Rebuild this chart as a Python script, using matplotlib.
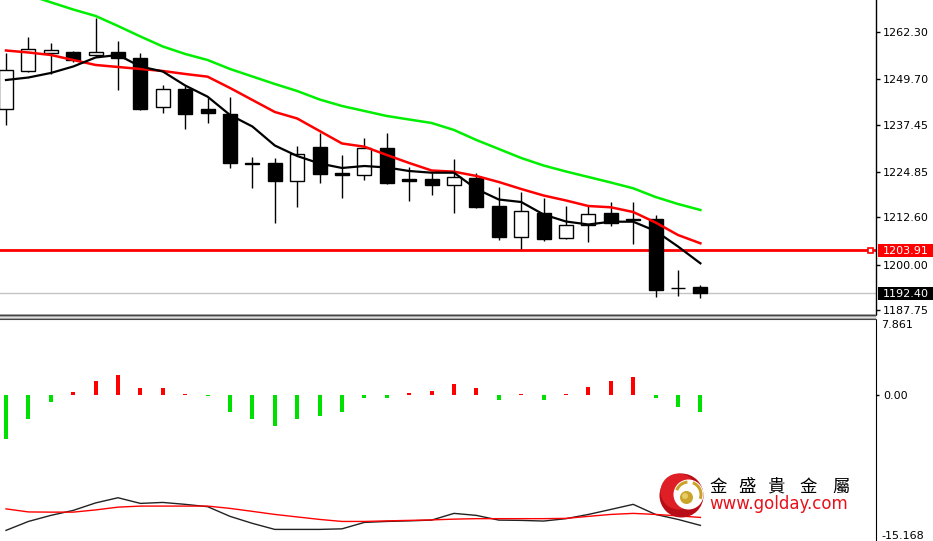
import numpy as np
import matplotlib.pyplot as plt
import matplotlib.transforms as mtransforms
from matplotlib.patches import Circle, Wedge, Rectangle

# candles (price)
opens = [1241.61, 1251.85, 1256.50, 1256.93, 1256.05, 1256.93, 1255.17, 1242.06, 1246.88, 1241.53,
         1240.19, 1227.09, 1227.09, 1222.36, 1231.53, 1224.50, 1223.96, 1231.26, 1222.76, 1222.81,
         1221.29, 1223.24, 1215.67, 1207.31, 1213.72, 1207.04, 1210.59, 1213.72, 1212.07, 1212.12,
         1193.75, 1194.10]
highs = [1256.58, 1260.78, 1259.34, 1257.12, 1265.86, 1259.87, 1256.66, 1248.03, 1247.76, 1244.47,
         1244.74, 1228.86, 1228.43, 1231.80, 1235.11, 1229.31, 1233.78, 1235.11, 1226.18, 1224.42,
         1228.16, 1224.42, 1220.84, 1219.50, 1217.73, 1215.67, 1215.67, 1216.82, 1216.82, 1213.27,
         1198.56, 1194.55]
lows = [1237.33, 1251.58, 1250.97, 1254.18, 1255.59, 1246.69, 1241.34, 1240.62, 1236.18, 1237.79,
        1225.75, 1220.41, 1211.05, 1215.33, 1221.90, 1217.73, 1222.63, 1221.60, 1217.01, 1218.62,
        1213.72, 1215.20, 1206.58, 1204.10, 1206.40, 1206.90, 1206.13, 1210.33, 1205.51, 1191.42,
        1191.69, 1191.00]
closes = [1252.04, 1257.65, 1257.39, 1254.71, 1256.93, 1255.17, 1241.53, 1246.88, 1240.27, 1240.46,
          1227.09, 1227.00, 1222.36, 1229.58, 1224.23, 1223.96, 1231.26, 1221.90, 1222.49, 1221.29,
          1223.51, 1215.49, 1207.31, 1214.34, 1206.85, 1210.59, 1213.54, 1211.21, 1211.80, 1193.21,
          1193.62, 1192.40]

# moving averages
ma_fast = [1249.36, 1250.03, 1251.24, 1252.97, 1255.38, 1256.05, 1252.97, 1251.64, 1247.89, 1244.90,
           1240.01, 1236.93, 1231.85, 1229.04, 1227.04, 1225.84, 1226.37, 1225.97, 1225.03, 1224.58,
           1224.58, 1220.22, 1217.41, 1216.74, 1213.40, 1211.53, 1210.73, 1211.48, 1211.48, 1208.99,
           1204.85, 1200.35]
ma_mid = [1257.25, 1256.72, 1256.05, 1254.71, 1253.38, 1252.84, 1252.31, 1251.77, 1250.97, 1250.25,
          1247.23, 1244.02, 1240.81, 1239.07, 1235.73, 1232.39, 1231.53, 1229.31, 1227.17, 1225.17,
          1224.85, 1223.70, 1222.09, 1220.22, 1218.48, 1217.15, 1215.67, 1215.33, 1214.07, 1211.26,
          1207.92, 1205.70]
ma_slow = [1273.96, 1272.09, 1270.14, 1268.21, 1266.48, 1263.80, 1261.00, 1258.32, 1256.32, 1254.71,
           1252.31, 1250.30, 1248.30, 1246.42, 1244.15, 1242.41, 1241.08, 1239.74, 1238.80, 1237.87,
           1236.00, 1233.32, 1230.92, 1228.51, 1226.50, 1224.90, 1223.43, 1221.96, 1220.41, 1218.08,
           1216.21, 1214.61]

# oscillator panel
hist = [-4.58, -2.43, -0.70, 0.34, 1.49, 2.08, 0.80, 0.80, 0.15, -0.10,
        -1.74, -2.43, -3.20, -2.43, -2.16, -1.74, -0.25, -0.25, 0.25, 0.45,
        1.22, 0.80, -0.52, 0.12, -0.52, 0.12, 0.90, 1.49, 1.95, -0.25,
        -1.18, -1.74]
osc_black = [-14.06, -13.13, -12.50, -11.98, -11.20, -10.66, -11.25, -11.15, -11.35, -11.59,
             -12.60, -13.33, -13.96, -13.96, -13.96, -13.90, -13.23, -13.13, -13.07, -12.99,
             -12.29, -12.50, -12.99, -13.02, -13.09, -12.84, -12.40, -11.88, -11.35, -12.40,
             -12.92, -13.54]
osc_red = [-11.82, -12.14, -12.16, -12.16, -11.93, -11.64, -11.53, -11.53, -11.53, -11.53,
           -11.77, -12.08, -12.40, -12.66, -12.92, -13.13, -13.13, -13.07, -13.02, -12.97,
           -12.89, -12.84, -12.84, -12.84, -12.84, -12.81, -12.60, -12.40, -12.29, -12.40,
           -12.55, -12.71]

price_ticks = [1262.30, 1249.70, 1237.45, 1224.85, 1212.60, 1200.00, 1187.75]
level_price = 1203.91
last_price = 1192.40
osc_max = 7.861
osc_min = -15.168

W, H = 933, 541
fig = plt.figure(figsize=(W / 100, H / 100), dpi=100)
fig.patch.set_facecolor('white')
x = np.arange(len(opens))
xlim = (-0.268, 38.84)

# ---- main price panel
ax = fig.add_axes([0, 1 - 314 / H, 876 / W, 314 / H])
ax.set_xlim(*xlim)
ax.set_ylim(1186.80, 1270.75)
for s in ['top', 'left', 'bottom']:
    ax.spines[s].set_visible(False)
ax.spines['right'].set_linewidth(1)
ax.set_xticks([])
ax.yaxis.tick_right()
ax.set_yticks(price_ticks)
ax.set_yticklabels([f'{v:.2f}' for v in price_ticks])
ax.tick_params(axis='y', length=3, width=1, pad=2, labelsize=8)

ax.axhline(last_price, color='#c4c4c4', lw=1, zorder=1)
ax.axhline(level_price, color='#ff0000', lw=2, zorder=2)

ax.vlines(x, lows, highs, color='black', lw=1, zorder=3)
o = np.array(opens)
c = np.array(closes)
body_bottom = np.minimum(o, c)
body_h = np.maximum(np.abs(c - o), 0.05)
face = ['black' if cc < oo else 'white' for oo, cc in zip(opens, closes)]
ax.bar(x, body_h, bottom=body_bottom, width=0.62, color=face, edgecolor='black',
       linewidth=1, zorder=4)

ax.plot(x, ma_slow, color='#00ee00', lw=1.8, zorder=5)
ax.plot(x, ma_mid, color='#ff0000', lw=1.8, zorder=5)
ax.plot(x, ma_fast, color='black', lw=1.6, zorder=5)

# ---- oscillator panel
ax2 = fig.add_axes([0, 0, 876 / W, 221 / H])
ax2.set_xlim(*xlim)
ax2.set_ylim(osc_min, osc_max)
for s in ['top', 'left', 'bottom']:
    ax2.spines[s].set_visible(False)
ax2.set_xticks([])
ax2.yaxis.tick_right()
ax2.set_yticks([0])
ax2.set_yticklabels(['0.00'])
ax2.tick_params(axis='y', length=2, width=1, pad=3, labelsize=8)
hcol = ['#ff0000' if v > 0 else '#00e000' for v in hist]
ax2.bar(x, hist, width=0.18, color=hcol, zorder=3)
ax2.plot(x, osc_black, color='#222222', lw=1, zorder=4)
ax2.plot(x, osc_red, color='#ff0000', lw=1, zorder=4)
tr2 = mtransforms.blended_transform_factory(ax2.transAxes, ax2.transData)
ax2.text(1 + 5 / 876, osc_max, f'{osc_max:.3f}', transform=tr2, fontsize=8, va='top', ha='left')
ax2.text(1 + 5 / 876, osc_min, f'{osc_min:.3f}', transform=tr2, fontsize=8, va='bottom', ha='left')

# ---- overlay in pixel coordinates (separator, price tags, logo)
ov = fig.add_axes([0, 0, 1, 1], zorder=10)
ov.set_xlim(0, W)
ov.set_ylim(H, 0)
ov.axis('off')
ov.patch.set_alpha(0)

ov.add_patch(Rectangle((0, 314), 876, 5, facecolor='#a8a8a8', edgecolor='none'))
for yy, col in [(314.5, '#444444'), (316.5, '#e0e0e0'), (318.5, '#444444')]:
    ov.plot([0, 876], [yy, yy], color=col, lw=0.8)


def pix_y(axis, value):
    return H - axis.transData.transform((0, value))[1]


for value, bg in [(level_price, '#ff0000'), (last_price, 'black')]:
    py = pix_y(ax, value)
    ov.add_patch(Rectangle((878, py - 6.5), 56, 13, facecolor=bg, edgecolor='none'))
    ov.text(883, py + 0.5, f'{value:.2f}', color='white', fontsize=8, va='center', ha='left')

py = pix_y(ax, level_price)
ov.add_patch(Rectangle((868, py - 2.5), 5, 5, facecolor='white', edgecolor='#ff0000', lw=1.2))

# logo
cx, cy = 681.5, 495.5
ov.add_patch(Circle((cx, cy), 22, facecolor='#b80d16', edgecolor='none'))
ov.add_patch(Circle((cx - 3, cy - 4), 18, facecolor='#de1f26', edgecolor='none'))
ov.add_patch(Circle((cx + 7, cy - 1), 15, facecolor='white', edgecolor='none'))
ov.add_patch(Wedge((cx + 7, cy - 1), 14, 200, 265, width=3, facecolor='#c9a227', edgecolor='none'))
ov.add_patch(Wedge((cx + 7, cy - 1), 14, 290, 20, width=3, facecolor='#c9a227', edgecolor='none'))
ov.add_patch(Circle((cx + 5, cy + 2), 6.5, facecolor='#caa52a', edgecolor='none'))
ov.add_patch(Circle((cx + 3.5, cy + 0.5), 3, facecolor='#e6cc66', edgecolor='none'))

for ch, px in zip('金盛貴金屬', [718, 747, 776, 808, 841]):
    ov.text(px, 487, ch, fontsize=12.5, family=['Noto Sans CJK TC', 'DejaVu Sans'],
            ha='center', va='center', color='black')
ov.text(709, 504, 'www.golday.com', fontsize=12, color='#e8101a', ha='left', va='center')

fig.savefig('out.png', dpi=100, facecolor='white')
